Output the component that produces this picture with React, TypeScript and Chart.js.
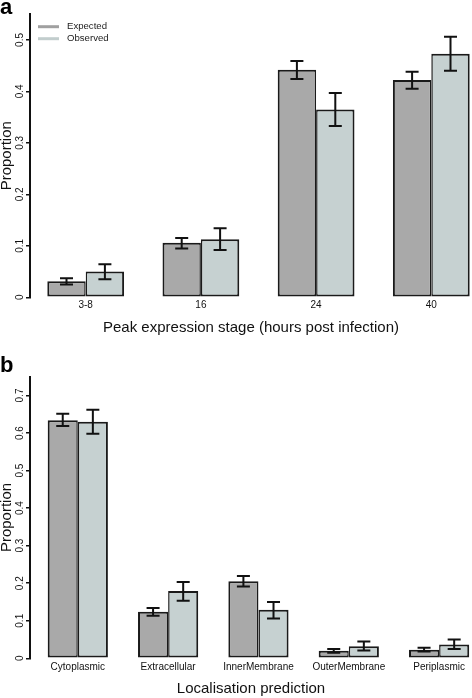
import React, { useEffect, useRef } from "react";
import { Chart, registerables } from "chart.js";

Chart.register(...registerables);

const FONT = '"Liberation Sans", Arial, Helvetica, sans-serif';

const seriesNames = ["Expected", "Observed"];
const seriesColors = ["#a9a9a9", "#c6d1d1"];
const legendColors = ["#a0a0a0", "#c2cdcd"];

// Panel a
const stageLabels = ["3-8", "16", "24", "40"];
const stageExpected = [0.031, 0.106, 0.442, 0.422];
const stageExpectedLow = [0.025, 0.095, 0.424, 0.405];
const stageExpectedHigh = [0.037, 0.115, 0.459, 0.438];
const stageObserved = [0.050, 0.113, 0.365, 0.473];
const stageObservedLow = [0.035, 0.092, 0.333, 0.440];
const stageObservedHigh = [0.064, 0.134, 0.397, 0.506];
const stageTicks = [0, 0.1, 0.2, 0.3, 0.4, 0.5];

// Panel b
const locLabels = ["Cytoplasmic", "Extracellular", "InnerMembrane", "OuterMembrane", "Periplasmic"];
const locExpected = [0.634, 0.124, 0.205, 0.020, 0.023];
const locExpectedLow = [0.619, 0.113, 0.191, 0.015, 0.018];
const locExpectedHigh = [0.651, 0.134, 0.219, 0.025, 0.028];
const locObserved = [0.630, 0.179, 0.129, 0.032, 0.037];
const locObservedLow = [0.598, 0.153, 0.106, 0.021, 0.025];
const locObservedHigh = [0.662, 0.203, 0.150, 0.045, 0.050];
const locTicks = [0, 0.1, 0.2, 0.3, 0.4, 0.5, 0.6, 0.7];

const errorBarPlugin = {
  id: "errorBars",
  afterDatasetsDraw(chart: any) {
    const ctx = chart.ctx;
    const yScale = chart.scales.y;
    ctx.save();
    ctx.strokeStyle = "#111";
    ctx.lineWidth = 2;
    chart.data.datasets.forEach((ds: any, di: number) => {
      const meta = chart.getDatasetMeta(di);
      meta.data.forEach((el: any, i: number) => {
        const x = el.x;
        const yl = yScale.getPixelForValue(ds.errLow[i]);
        const yh = yScale.getPixelForValue(ds.errHigh[i]);
        const hw = 6.5;
        ctx.beginPath();
        ctx.moveTo(x, yl);
        ctx.lineTo(x, yh);
        ctx.moveTo(x - hw, yl);
        ctx.lineTo(x + hw, yl);
        ctx.moveTo(x - hw, yh);
        ctx.lineTo(x + hw, yh);
        ctx.stroke();
      });
    });
    ctx.restore();
  },
};

const legendPlugin = {
  id: "rLegend",
  afterDraw(chart: any, _args: any, opts: any) {
    if (!opts || !opts.show) return;
    const ctx = chart.ctx;
    const { left, top } = chart.chartArea;
    ctx.save();
    ctx.font = `9.6px ${FONT}`;
    ctx.textBaseline = "middle";
    ctx.textAlign = "left";
    chart.data.datasets.forEach((ds: any, i: number) => {
      const y = top + 12.5 + i * 12;
      ctx.strokeStyle = legendColors[i];
      ctx.lineWidth = 3;
      ctx.beginPath();
      ctx.moveTo(left + 8, y);
      ctx.lineTo(left + 29, y);
      ctx.stroke();
      ctx.fillStyle = "#222";
      ctx.fillText(ds.label, left + 37, y);
    });
    ctx.restore();
  },
};

type Panel = {
  labels: string[];
  exp: number[];
  expLow: number[];
  expHigh: number[];
  obs: number[];
  obsLow: number[];
  obsHigh: number[];
  yTicks: number[];
  yMax: number;
  xMin: number;
  xMax: number;
  xTitle: string;
  areaLeft: number;
  areaTop: number;
  xAxisHeight: number;
  xTickPad: number;
  xTitlePad: number;
  legend: boolean;
};

function buildChart(canvas: HTMLCanvasElement, p: Panel) {
  const toPts = (vals: number[]) => vals.map((v, i) => ({ x: i, y: v }));
  const mkBorder = (side: number) =>
    side === 0
      ? { left: 2, right: 1.5, top: 2, bottom: 2 }
      : { left: 1.5, right: 2, top: 2, bottom: 2 };
  return new Chart(canvas, {
    type: "bar",
    data: {
      datasets: [
        {
          label: seriesNames[0],
          data: toPts(p.exp),
          backgroundColor: seriesColors[0],
          borderColor: "#1a1a1a",
          borderWidth: mkBorder(0),
          borderSkipped: false,
          categoryPercentage: 2 / 3,
          barPercentage: 1,
          errLow: p.expLow,
          errHigh: p.expHigh,
        } as any,
        {
          label: seriesNames[1],
          data: toPts(p.obs),
          backgroundColor: seriesColors[1],
          borderColor: "#1a1a1a",
          borderWidth: mkBorder(1),
          borderSkipped: false,
          categoryPercentage: 2 / 3,
          barPercentage: 1,
          errLow: p.obsLow,
          errHigh: p.obsHigh,
        } as any,
      ],
    },
    options: {
      responsive: false,
      animation: false,
      devicePixelRatio: 1,
      layout: { padding: { left: 0, right: 0, top: p.areaTop, bottom: 0 } },
      plugins: {
        legend: { display: false },
        tooltip: { enabled: false },
        rLegend: { show: p.legend },
      } as any,
      scales: {
        x: {
          type: "linear",
          offset: false,
          min: p.xMin,
          max: p.xMax,
          afterBuildTicks: (axis: any) => {
            axis.ticks = p.labels.map((_, i) => ({ value: i }));
          },
          afterFit: (axis: any) => {
            axis.height = p.xAxisHeight;
          },
          grid: { display: false, drawTicks: false, offset: false },
          border: { display: false },
          ticks: {
            autoSkip: false,
            maxRotation: 0,
            minRotation: 0,
            padding: p.xTickPad,
            color: "#111",
            font: { family: FONT, size: 10 },
            callback: (v: any) => p.labels[Math.round(Number(v))] ?? "",
          },
          title: {
            display: true,
            text: p.xTitle,
            color: "#111",
            font: { family: FONT, size: 15, lineHeight: 1.2 },
            padding: { top: 0, bottom: p.xTitlePad },
          },
        },
        y: {
          type: "linear",
          min: 0,
          max: p.yMax,
          afterBuildTicks: (axis: any) => {
            axis.ticks = p.yTicks.map((v) => ({ value: v }));
          },
          afterFit: (axis: any) => {
            axis.width = p.areaLeft;
          },
          grid: {
            display: true,
            drawOnChartArea: false,
            drawTicks: true,
            tickLength: 4,
            color: "#111",
            lineWidth: 1.5,
          },
          border: { display: true, color: "#111", width: 2 },
          ticks: {
            minRotation: 90,
            maxRotation: 90,
            crossAlign: "center",
            padding: -1.5,
            color: "#111",
            font: { family: FONT, size: 10 },
            callback: (v: any) => String(Math.round(Number(v) * 10) / 10),
          },
          title: {
            display: true,
            text: "Proportion",
            color: "#111",
            font: { family: FONT, size: 15, lineHeight: 1 },
            padding: { top: -0.5, bottom: 0 },
          },
        },
      },
    },
    plugins: [errorBarPlugin, legendPlugin],
  } as any);
}

export default function App() {
  const topRef = useRef<HTMLCanvasElement | null>(null);
  const botRef = useRef<HTMLCanvasElement | null>(null);

  useEffect(() => {
    const charts: Chart[] = [];
    if (topRef.current) {
      charts.push(
        buildChart(topRef.current, {
          labels: stageLabels,
          exp: stageExpected,
          expLow: stageExpectedLow,
          expHigh: stageExpectedHigh,
          obs: stageObserved,
          obsLow: stageObservedLow,
          obsHigh: stageObservedHigh,
          yTicks: stageTicks,
          yMax: 0.55,
          xMin: (30 - 85.7) / 115.2,
          xMax: (472 - 85.7) / 115.2,
          xTitle: "Peak expression stage (hours post infection)",
          areaLeft: 30,
          areaTop: 14.2,
          xAxisHeight: 350 - 297.3,
          xTickPad: 2,
          xTitlePad: 13.3,
          legend: true,
        })
      );
    }
    if (botRef.current) {
      charts.push(
        buildChart(botRef.current, {
          labels: locLabels,
          exp: locExpected,
          expLow: locExpectedLow,
          expHigh: locExpectedHigh,
          obs: locObserved,
          obsLow: locObservedLow,
          obsHigh: locObservedHigh,
          yTicks: locTicks,
          yMax: 0.75,
          xMin: (30 - 77.8) / 90.33,
          xMax: (472 - 77.8) / 90.33,
          xTitle: "Localisation prediction",
          areaLeft: 30,
          areaTop: 26.7,
          xAxisHeight: 348 - 308.3,
          xTickPad: 2.5,
          xTitlePad: 0,
          legend: false,
        })
      );
    }
    return () => charts.forEach((c) => c.destroy());
  }, []);

  const letter: React.CSSProperties = {
    position: "absolute",
    left: 0,
    fontFamily: FONT,
    fontWeight: "bold",
    fontSize: 22,
    lineHeight: "22px",
    color: "#000",
  };

  return (
    <div style={{ position: "absolute", left: 0, top: 0, width: 472, height: 698, background: "#fff" }}>
      <canvas ref={topRef} width={472} height={350} style={{ position: "absolute", left: 0, top: 0 }} />
      <canvas ref={botRef} width={472} height={348} style={{ position: "absolute", left: 0, top: 350 }} />
      <div style={{ ...letter, top: -3.6 }}>a</div>
      <div style={{ ...letter, top: 354.4 }}>b</div>
    </div>
  );
}
